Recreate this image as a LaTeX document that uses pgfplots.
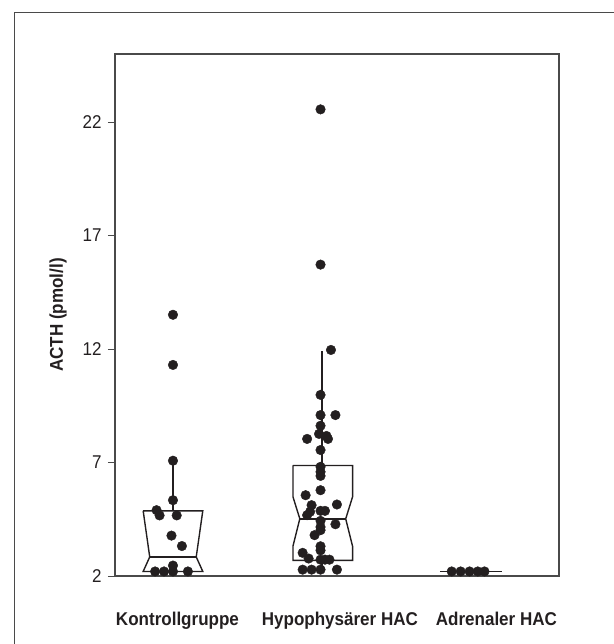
\documentclass[border=0pt]{standalone}
\usepackage{fontspec}
\setmainfont{Liberation Sans}
\newfontfamily\labfont[FakeStretch=0.92]{Liberation Sans}
\usepackage{pgfplots}
\pgfplotsset{compat=1.18}

\definecolor{ink}{HTML}{231F20}
\definecolor{framegray}{HTML}{4A4A4A}

\begin{document}
\begin{tikzpicture}
\useasboundingbox (0,0) rectangle (614bp,644bp);
% outer frame (cut at right and bottom in the original)
\draw[framegray, line width=0.9bp] (14bp,-5bp) -- (14bp,632bp) -- (620bp,632bp);

\begin{axis}[
    at={(115bp,68bp)}, anchor=south west,
    width=444bp, height=522bp, scale only axis,
    xmin=0.611, xmax=3.59,
    ymin=2, ymax=25,
    ytick={2,7,12,17,22},
    ytick pos=left,
    tick align=outside,
    major tick length=7bp,
    xtick={1.03,2.12,3.17},
    xticklabels={Kontrollgruppe,Hypophysärer HAC,Adrenaler HAC},
    x tick style={draw=none},
    y tick style={line width=1bp, color=framegray},
    axis line style={line width=1.4bp, color=framegray},
    /pgf/number format/assume math mode=true,
    tick label style={font=\labfont\fontsize{18.5bp}{21bp}\selectfont, text=ink},
    xticklabel style={font=\labfont\fontsize{18.5bp}{21bp}\selectfont\bfseries, yshift=-26bp},
    yticklabel style={xshift=-3bp},
    ylabel={ACTH (pmol/l)},
    ylabel style={at={(axis description cs:-0.128,0.5)}, anchor=center,
        font=\labfont\fontsize{18.5bp}{21bp}\selectfont\bfseries, text=ink},
    clip=false,
]
% Kontrollgruppe: notched box, median line, upper whisker
\addplot[ink, line width=1.4bp] coordinates {
    (0.800,4.87) (1.200,4.87) (1.156,2.84) (1.200,2.20) (0.800,2.20) (0.844,2.84) (0.800,4.87)};
\addplot[ink, line width=1.4bp] coordinates {(0.844,2.84) (1.156,2.84)};
\addplot[ink, line width=1.4bp] coordinates {(1.0,4.87) (1.0,7.08)};

% Hypophysaerer HAC
\addplot[ink, line width=1.4bp] coordinates {
    (1.805,6.87) (2.205,6.87) (2.205,5.49) (2.159,4.52) (2.205,3.31) (2.205,2.69)
    (1.805,2.69) (1.805,3.31) (1.851,4.52) (1.805,5.49) (1.805,6.87)};
\addplot[ink, line width=1.4bp] coordinates {(1.851,4.52) (2.159,4.52)};
\addplot[ink, line width=1.4bp] coordinates {(2.0,6.87) (2.0,11.9)};
\addplot[ink, line width=1.4bp] coordinates {(2.0,2.69) (2.0,2.2)};

% Adrenaler HAC: collapsed box
\addplot[ink, line width=1.4bp] coordinates {(2.79,2.2) (3.206,2.2)};

% individual values
\addplot[only marks, mark=*, mark size=4.8bp, ink] coordinates {
    (1.00,13.51) (1.00,11.30) (1.00,7.08) (1.00,5.34) (0.89,4.90) (0.91,4.67)
    (1.025,4.67) (0.99,3.78) (1.06,3.32) (0.88,2.2) (0.94,2.2) (1.00,2.46)
    (1.00,2.2) (1.10,2.2)};
\addplot[only marks, mark=*, mark size=4.8bp, ink] coordinates {
    (1.99,22.56) (1.99,15.72) (2.06,11.96) (1.99,9.98) (1.99,9.09) (2.09,9.09)
    (1.99,8.62) (1.98,8.26) (2.03,8.17) (1.90,8.04) (2.04,8.04) (1.99,7.55)
    (1.99,6.81) (1.99,6.59) (1.99,6.41) (1.99,5.78) (1.89,5.56) (2.10,5.15)
    (1.93,5.12) (1.92,4.83) (1.90,4.68) (1.99,4.87) (2.02,4.87) (1.99,4.43)
    (2.09,4.28) (1.99,4.16) (1.99,4.02) (1.95,3.80) (1.99,3.31) (1.99,3.13)
    (1.87,3.02) (1.91,2.77) (1.99,2.72) (2.05,2.72) (2.02,2.72)
    (1.87,2.28) (1.93,2.28) (1.99,2.28) (2.10,2.28)};
\addplot[only marks, mark=*, mark size=4.8bp, ink] coordinates {
    (2.87,2.2) (2.93,2.2) (2.99,2.2) (3.045,2.2) (3.09,2.2)};
\end{axis}
\end{tikzpicture}
\end{document}
